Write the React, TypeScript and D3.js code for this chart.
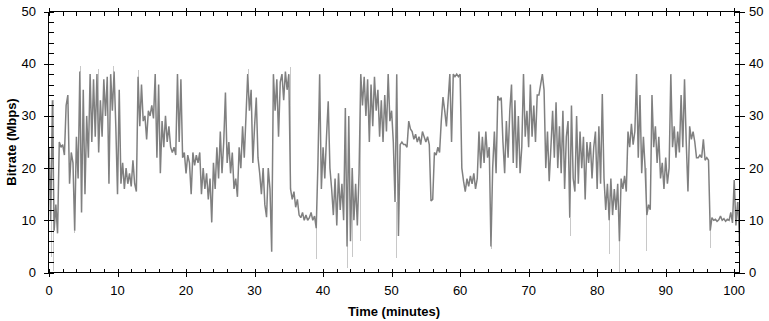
import React from 'react';
import * as d3 from 'd3';

const W = 769;
const H = 321;

// Sampling interval of the bitrate trace, in minutes
const stepMinutes = 0.25;

// Average bitrate (Mbps), 4 samples per minute
const bitrate: number[] = [
  24, 10, 33, 8, // 0
  13, 7.5, 25, 24, // 1
  24.5, 22.5, 32, 34, // 2
  17, 23, 21, 8, // 3
  26, 18, 38.5, 11.5, // 4
  35, 15, 30, 22, // 5
  38, 25, 37, 26, // 6
  38, 23, 33, 26, // 7
  37, 30, 37.5, 17, // 8
  38, 31, 38.5, 28, // 9
  15, 35, 17, 21, // 10
  16, 20, 17, 19, // 11
  16.5, 21.5, 17, 15.5, // 12
  37.5, 28, 36, 29, // 13
  30, 25.5, 31, 30, // 14
  32, 29.5, 38, 22, // 15
  36, 19, 29, 24, // 16
  30, 25, 28, 24, // 17
  23, 24, 22.5, 38, // 18
  25, 37, 22, 23, // 19
  19, 22.5, 21, 15, // 20
  23, 20.5, 22.5, 21, // 21
  23, 15, 20, 16, // 22
  19, 14, 18, 9.6, // 23
  21, 16, 24, 18, // 24
  27, 19, 25, 34.5, // 25
  21, 25, 19, 23, // 26
  16, 18, 14.5, 24, // 27
  20, 28, 22, 30, // 28
  38, 31, 35, 21, // 29
  28, 33.5, 22, 19, // 30
  15, 20, 13, 10.6, // 31
  20, 16, 4, 38, // 32
  31, 37, 26, 36.5, // 33
  38, 33, 38.5, 35, // 34
  38, 16, 14, 15.5, // 35
  12.5, 14, 11, 10.5, // 36
  11.5, 10, 11, 10, // 37
  10.5, 11.5, 10, 10.8, // 38
  8.5, 21, 38, 16, // 39
  24, 18, 26, 32.8, // 40
  20, 16, 11, 18, // 41
  9, 19, 12, 17, // 42
  10, 31.5, 5, 30, // 43
  6, 20, 10, 17, // 44
  9, 19, 38, 32, // 45
  37.5, 30, 37, 25, // 46
  36, 28, 37.5, 31, // 47
  35, 26, 33, 25, // 48
  34, 27, 38, 29, // 49
  31, 25, 13.5, 38, // 50
  7, 24.5, 25, 24.5, // 51
  24.5, 24, 29, 27.5, // 52
  27, 25.5, 26.5, 25, // 53
  26, 24.5, 27, 26, // 54
  25, 26, 24.5, 13.7, // 55
  14, 23, 22.5, 24, // 56
  23, 29, 33.6, 31, // 57
  28, 33, 38, 25, // 58
  38, 37.5, 38, 37.5, // 59
  38, 20, 17.5, 15.5, // 60
  18, 16.5, 18.5, 17, // 61
  19, 16, 18, 27, // 62
  20, 26, 21, 27, // 63
  22, 24, 5, 20, // 64
  27, 19, 33.8, 33, // 65
  33.5, 25, 19, 29, // 66
  22, 31, 36, 21, // 67
  33, 20, 30, 19, // 68
  24, 38, 26, 31, // 69
  24, 36, 26, 32, // 70
  25, 34, 34, 36, // 71
  38, 35, 20, 27, // 72
  17.5, 24, 31, 22, // 73
  32.6, 20, 28, 19, // 74
  31, 16, 26, 29, // 75
  10.5, 32, 18, 15.5, // 76
  30, 17, 27, 20, // 77
  26, 14, 25, 21, // 78
  25, 18, 24, 27, // 79
  16, 28, 17, 34.2, // 80
  18, 12, 17, 10, // 81
  18, 11, 16, 12, // 82
  17, 6, 18, 16, // 83
  18.5, 15.5, 27, 24, // 84
  28.5, 24.5, 27, 38, // 85
  22, 34, 19, 26, // 86
  20, 11, 13, 12, // 87
  34, 24, 28, 21, // 88
  26, 18, 21, 16, // 89
  22, 17, 20, 38, // 90
  24, 28, 22, 27, // 91
  23, 34, 24, 37, // 92
  25, 15.5, 28, 25.5, // 93
  27, 25, 22, 22, // 94
  22.5, 22, 25.5, 21.5, // 95
  22, 21.5, 8, 10.5, // 96
  10, 10.2, 9.8, 10.1, // 97
  10.8, 10, 10.3, 9.8, // 98
  10.2, 10, 11.5, 9.5, // 99
  17.7, 9, 13.5, 7.5, // 100
];

// Peak bitrate excursions (light grey) [minute, Mbps]
const peakMinutes: number[] = [0.3, 0.6, 3.7, 4.5, 7.2, 9.4, 13.0, 29.1, 35.2, 39.0, 43.5, 44.2, 45.4, 50.6, 64.5, 76.0, 81.8, 83.2, 87.1, 96.5, 100.5];
const peakValues: number[] = [2.9, 0.3, 7.5, 39.5, 39, 39.5, 38.8, 39, 39.3, 2.5, 0.8, 3, 6, 2.8, 4.5, 7, 3.5, 0, 4.2, 4.6, 5];

const xMajorTicks: number[] = [0, 10, 20, 30, 40, 50, 60, 70, 80, 90, 100];
const yMajorTicks: number[] = [0, 10, 20, 30, 40, 50];
const minorStep = 2;

const xTitle = 'Time (minutes)';
const yTitle = 'Bitrate (Mbps)';

export default function App() {
  const x = d3.scaleLinear().domain([0, 100.7]).range([49, 739]);
  const y = d3.scaleLinear().domain([0, 50]).range([272.5, 11.5]);

  const pts: [number, number][] = bitrate.map((v, i) => [i * stepMinutes, v]);
  const line = d3
    .line<[number, number]>()
    .x((d) => x(d[0]))
    .y((d) => y(d[1]));

  const valueAt = (t: number) => {
    const i = Math.max(0, Math.min(bitrate.length - 1, Math.round(t / stepMinutes)));
    return bitrate[i];
  };

  const xMinor = d3.range(0, 101, minorStep).filter((v) => v % 10 !== 0);
  const yMinor = d3.range(0, 51, minorStep).filter((v) => v % 10 !== 0);

  const left = 48.5;
  const right = 739.5;
  const top = 11.5;
  const bottom = 272.5;
  const font = '"Liberation Sans", Arial, sans-serif';

  return (
    <svg
      width={W}
      height={H}
      style={{ position: 'absolute', left: 0, top: 0, background: '#fff' }}
    >
      <g>
        {peakMinutes.map((t, i) => (
          <line
            key={'p' + i}
            x1={Math.round(x(t)) + 0.5}
            x2={Math.round(x(t)) + 0.5}
            y1={y(valueAt(t))}
            y2={y(peakValues[i])}
            stroke="#c8c8c8"
            strokeWidth={1}
            shapeRendering="crispEdges"
          />
        ))}
        <path
          d={line(pts) || ''}
          fill="none"
          stroke="#808080"
          strokeWidth={1.5}
          strokeLinejoin="miter"
          strokeMiterlimit={2}
        />
      </g>
      <g stroke="#000" strokeWidth={1} shapeRendering="crispEdges">
        <line x1={left} x2={left} y1={top} y2={bottom} />
        <line x1={right} x2={right} y1={top} y2={bottom} />
        <line x1={left} x2={right} y1={top} y2={top} />
        <line x1={left} x2={right} y1={bottom} y2={bottom} />
        {yMajorTicks.map((v) => (
          <g key={'ym' + v}>
            <line x1={left - 5} x2={left + 5} y1={Math.round(y(v)) + 0.5} y2={Math.round(y(v)) + 0.5} />
            <line x1={right - 5} x2={right + 5} y1={Math.round(y(v)) + 0.5} y2={Math.round(y(v)) + 0.5} />
          </g>
        ))}
        {yMinor.map((v) => (
          <g key={'yn' + v}>
            <line x1={left} x2={left + 5} y1={Math.round(y(v)) + 0.5} y2={Math.round(y(v)) + 0.5} />
            <line x1={right - 5} x2={right} y1={Math.round(y(v)) + 0.5} y2={Math.round(y(v)) + 0.5} />
          </g>
        ))}
        {xMajorTicks.map((v) => (
          <g key={'xm' + v}>
            <line x1={Math.round(x(v)) + 0.5} x2={Math.round(x(v)) + 0.5} y1={bottom - 4} y2={bottom + 4} />
            <line x1={Math.round(x(v)) + 0.5} x2={Math.round(x(v)) + 0.5} y1={top - 4} y2={top + 4} />
          </g>
        ))}
        {xMinor.map((v) => (
          <g key={'xn' + v}>
            <line x1={Math.round(x(v)) + 0.5} x2={Math.round(x(v)) + 0.5} y1={bottom - 4} y2={bottom} />
            <line x1={Math.round(x(v)) + 0.5} x2={Math.round(x(v)) + 0.5} y1={top} y2={top + 4} />
          </g>
        ))}
      </g>
      <g fontFamily={font} fontSize={13} fill="#000">
        {yMajorTicks.map((v) => (
          <g key={'yl' + v}>
            <text x={36} y={y(v)} dy="0.35em" textAnchor="end">
              {v}
            </text>
            <text x={749} y={y(v)} dy="0.35em" textAnchor="start">
              {v}
            </text>
          </g>
        ))}
        {xMajorTicks.map((v) => (
          <text key={'xl' + v} x={x(v)} y={295} textAnchor="middle">
            {v}
          </text>
        ))}
        <text x={(left + right) / 2} y={316} textAnchor="middle" fontWeight="bold">
          {xTitle}
        </text>
        <text
          transform={`translate(16, ${(top + bottom) / 2}) rotate(-90)`}
          textAnchor="middle"
          fontWeight="bold"
        >
          {yTitle}
        </text>
      </g>
    </svg>
  );
}
